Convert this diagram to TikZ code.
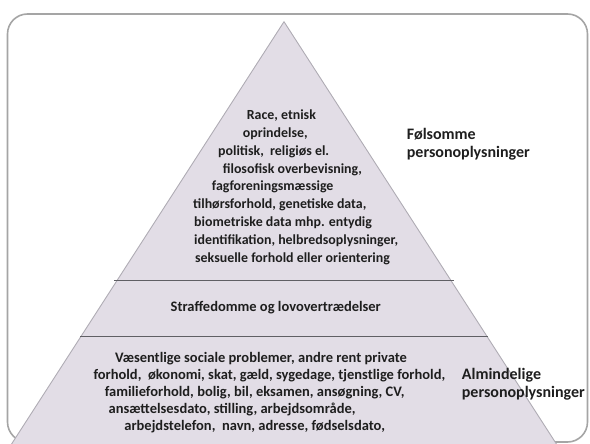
\documentclass[tikz,border=0pt]{standalone}
\usepackage{fontspec}
\setmainfont{Carlito}
\definecolor{pyrfill}{RGB}{226,221,230}
\definecolor{pyredge}{RGB}{175,172,180}
\definecolor{divline}{RGB}{95,95,100}
\definecolor{framecol}{RGB}{165,165,165}
\definecolor{txt}{RGB}{30,30,30}
\tikzset{
  frame/.style={draw=framecol, line width=1.6pt, rounded corners=20pt},
  pyramid/.style={fill=pyrfill, draw=pyredge, line width=0.9pt, line join=miter},
  divider/.style={draw=divline, line width=1pt},
  bodytxt/.style={anchor=west, inner sep=0pt, text=txt, font=\bfseries\fontsize{13.9}{16}\selectfont, text height=0.72em, text depth=0.2em},
  lowtxt/.style={bodytxt, font=\bfseries\fontsize{14.5}{16}\selectfont},
  labeltxt/.style={anchor=west, inner sep=0pt, text=txt, font=\bfseries\fontsize{16}{18}\selectfont, text height=0.72em, text depth=0.2em},
}
\begin{document}
\begin{tikzpicture}[x=1pt,y=-1pt]
\useasboundingbox (0,0) rectangle (590,444);
\clip (0,0) rectangle (590,444);
% frame
\draw[frame] (7.5,14) rectangle (587.5,442);
% pyramid
\coordinate (apex) at (284,21.7);
\coordinate (bl) at (7.7,450);
\coordinate (br) at (560.3,450);
\path[pyramid] (apex) -- (br) -- (bl) -- cycle;
% dividers
\coordinate (d1l) at (114,280.7);
\coordinate (d1r) at (454,280.7);
\coordinate (d2l) at (80,336.7);
\coordinate (d2r) at (488,336.7);
\draw[divider] (d1l) -- (d1r);
\draw[divider] (d2l) -- (d2r);
% top text
\node[bodytxt] (t1) at (246.7,116.7) {Race, etnisk};
\node[bodytxt] (t2) at (242.7,134.6) {oprindelse,};
\node[bodytxt] (t3) at (218,152.5) {politisk,\ \ religiøs el.};
\node[bodytxt] (t4) at (222.7,170.4) {filosofisk overbevisning,};
\node[bodytxt] (t5) at (211.7,188.3) {fagforeningsmæssige};
\node[bodytxt] (t6) at (193,206.2) {tilhørsforhold, genetiske data,};
\node[bodytxt] (t7) at (194,224.1) {biometriske data mhp. entydig};
\node[bodytxt] (t8) at (194,242.0) {identifikation, helbredsoplysninger,};
\node[bodytxt] (t9) at (195,259.9) {seksuelle forhold eller orientering};
% labels
\node[labeltxt] (f1) at (406.7,137) {Følsomme};
\node[labeltxt] (f2) at (406.7,155) {personoplysninger};
% middle
\node[lowtxt] (m1) at (170.5,309) {Straffedomme og lovovertrædelser};
% bottom text
\node[lowtxt] (b1) at (114.8,360) {Væsentlige sociale problemer, andre rent private};
\node[lowtxt] (b2) at (93.3,377) {forhold,\ \ økonomi, skat, gæld, sygedage, tjenstlige forhold,};
\node[lowtxt] (b3) at (104.6,394) {familieforhold, bolig, bil, eksamen, ansøgning, CV,};
\node[lowtxt] (b4) at (108.4,411) {ansættelsesdato, stilling, arbejdsområde,};
\node[lowtxt] (b5) at (124.2,428) {arbejdstelefon,\ \ navn, adresse, fødselsdato,};
\node[labeltxt] (a1) at (461.7,377) {Almindelige};
\node[labeltxt] (a2) at (461.7,395) {personoplysninger};
\end{tikzpicture}
\end{document}
